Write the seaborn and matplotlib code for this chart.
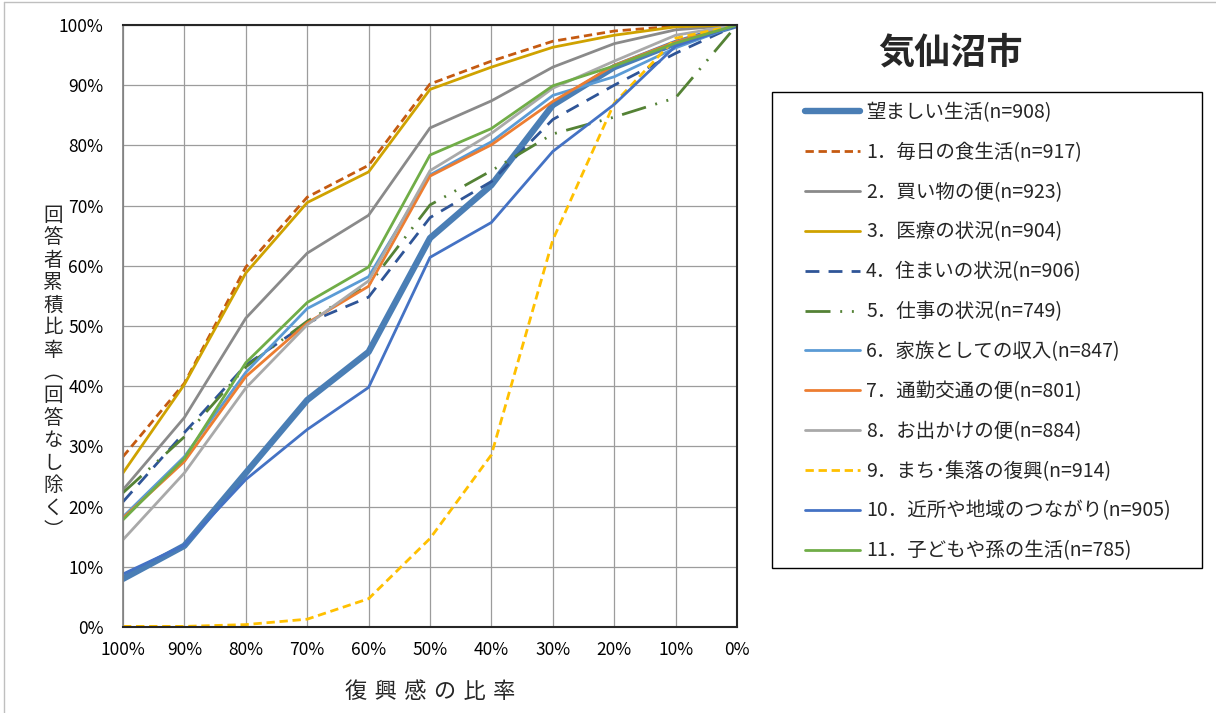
import matplotlib
matplotlib.use("Agg")
import matplotlib.pyplot as plt
from matplotlib.patches import Rectangle
from matplotlib.lines import Line2D
import seaborn as sns
import pandas as pd

# 復興感の比率 (x axis, descending)
x_labels = ["100%", "90%", "80%", "70%", "60%", "50%", "40%", "30%", "20%", "10%", "0%"]
x_vals = [100, 90, 80, 70, 60, 50, 40, 30, 20, 10, 0]

# 回答者累積比率 (%)
desired = [8.0, 13.5, 25.6, 37.7, 45.7, 64.6, 73.4, 86.7, 93.0, 97.0, 100]
s1 = [28.3, 40.5, 59.8, 71.4, 76.7, 90.2, 94.0, 97.3, 99.0, 99.8, 100]
s2 = [22.8, 34.8, 51.3, 62.1, 68.4, 82.9, 87.4, 93.0, 96.9, 99.2, 100]
s3 = [25.6, 40.3, 58.8, 70.5, 75.6, 89.3, 93.0, 96.3, 98.3, 99.7, 100]
s4 = [20.8, 32.3, 43.5, 50.5, 54.8, 68.0, 74.0, 84.3, 90.0, 95.3, 100]
s5 = [22.3, 31.6, 43.2, 50.8, 56.8, 70.1, 75.8, 81.9, 84.7, 87.9, 100]
s6 = [18.3, 28.3, 42.3, 52.9, 58.2, 75.1, 80.6, 88.3, 91.4, 96.2, 100]
s7 = [18.1, 27.5, 41.6, 50.5, 56.6, 74.9, 80.1, 87.3, 93.3, 97.2, 100]
s8 = [14.5, 25.6, 39.7, 50.2, 57.5, 75.8, 82.0, 89.5, 94.0, 98.3, 100]
s9 = [0.1, 0.1, 0.4, 1.3, 4.7, 14.7, 28.6, 64.3, 87.0, 97.8, 100]
s10 = [8.8, 13.6, 24.5, 32.8, 39.8, 61.4, 67.2, 79.0, 86.8, 96.5, 100]
s11 = [17.8, 28.0, 43.9, 53.9, 59.8, 78.4, 82.8, 89.9, 93.2, 97.0, 100]

labels = [
    "望ましい生活(n=908)",
    "1．毎日の食生活(n=917)",
    "2．買い物の便(n=923)",
    "3．医療の状況(n=904)",
    "4．住まいの状況(n=906)",
    "5．仕事の状況(n=749)",
    "6．家族としての収入(n=847)",
    "7．通勤交通の便(n=801)",
    "8．お出かけの便(n=884)",
    "9．まち･集落の復興(n=914)",
    "10．近所や地域のつながり(n=905)",
    "11．子どもや孫の生活(n=785)",
]
series = [desired, s1, s2, s3, s4, s5, s6, s7, s8, s9, s10, s11]

colors = ["#4A7EB5", "#C55A11", "#8A8A8A", "#CFA200", "#2F5597", "#548235",
          "#5B9BD5", "#ED7D31", "#A9A9A9", "#FFC000", "#4472C4", "#70AD47"]
widths = [4.6] + [2.0] * 11
styles = ["-", (0, (3, 1.7)), "-", "-", (0, (5, 3.3)),
          (0, (9, 3.5, 0.7, 3.5, 0.7, 3.5)), "-", "-", "-", (0, (3, 1.7)), "-", "-"]

sns.set_style("white")
plt.rcParams["font.family"] = ["Noto Sans CJK JP", "DejaVu Sans"]

fig = plt.figure(figsize=(12.16, 7.13), dpi=100)
ax = fig.add_axes([123 / 1216, 1 - 627 / 713, 614 / 1216, 602 / 713])

for vals, lab, c, lw, ls in zip(series, labels, colors, widths, styles):
    df = pd.DataFrame({"x": x_vals, "y": vals})
    sns.lineplot(data=df, x="x", y="y", ax=ax, color=c, linewidth=lw,
                 linestyle=ls, label=lab, legend=False, sort=False)

ax.set_xlim(100, 0)
ax.set_ylim(0, 100)
ax.set_xticks(x_vals)
ax.set_xticklabels(x_labels)
ax.set_yticks(range(0, 101, 10))
ax.set_yticklabels([f"{v}%" for v in range(0, 101, 10)])
ax.grid(True, color="#9C9C9C", linewidth=0.9)
ax.set_axisbelow(True)
ax.tick_params(axis="both", labelsize=12.5, colors="#7F7F7F", width=0.9,
               labelcolor="black")
ax.tick_params(axis="y", length=6, pad=8)
ax.tick_params(axis="x", length=5, pad=5)
ax.set_xlabel("")
ax.set_ylabel("")
for side in ["top", "right", "bottom"]:
    ax.spines[side].set_color("#262626")
    ax.spines[side].set_linewidth(1.5)
ax.spines["left"].set_color("#7F7F7F")
ax.spines["left"].set_linewidth(1.2)

# axis titles
fig.text(430 / 1216, 1 - 691 / 713, "\u2004".join("復興感の比率"), ha="center",
         va="center", fontsize=16, family=["Noto Sans CJK JP", "DejaVu Sans"])
ylab = "回答者累積比率︵回答なし除く︶"
fig.text(53 / 1216, 1 - 373 / 713, "\n".join(ylab), ha="center", va="center",
         fontsize=14, linespacing=1.095)

# title
fig.text(950 / 1216, 1 - 53 / 713, "気仙沼市", ha="center", va="center",
         fontsize=26, fontweight="bold")

# legend with its own frame
handles = [Line2D([], [], color=c, linewidth=lw, linestyle=ls)
           for c, lw, ls in zip(colors, widths, styles)]
leg = fig.legend(handles, labels, loc="upper left",
                 bbox_to_anchor=(805 / 1216, 1 - 102 / 713),
                 frameon=False, fontsize=14, handlelength=2.83,
                 handletextpad=0.31, labelspacing=0.97, borderpad=0,
                 borderaxespad=0)
fig.add_artist(Rectangle((772 / 1216, 1 - 568 / 713), 430 / 1216, 476 / 713,
                         transform=fig.transFigure, fill=False,
                         edgecolor="black", linewidth=1.0))

# outer chart border
fig.add_artist(Line2D([4 / 1216, 4 / 1216], [0, 1 - 2 / 713],
                      transform=fig.transFigure, color="#BFBFBF", linewidth=1))
fig.add_artist(Line2D([4 / 1216, 1], [1 - 2 / 713, 1 - 2 / 713],
                      transform=fig.transFigure, color="#BFBFBF", linewidth=1))

fig.savefig("out.png", dpi=100)
